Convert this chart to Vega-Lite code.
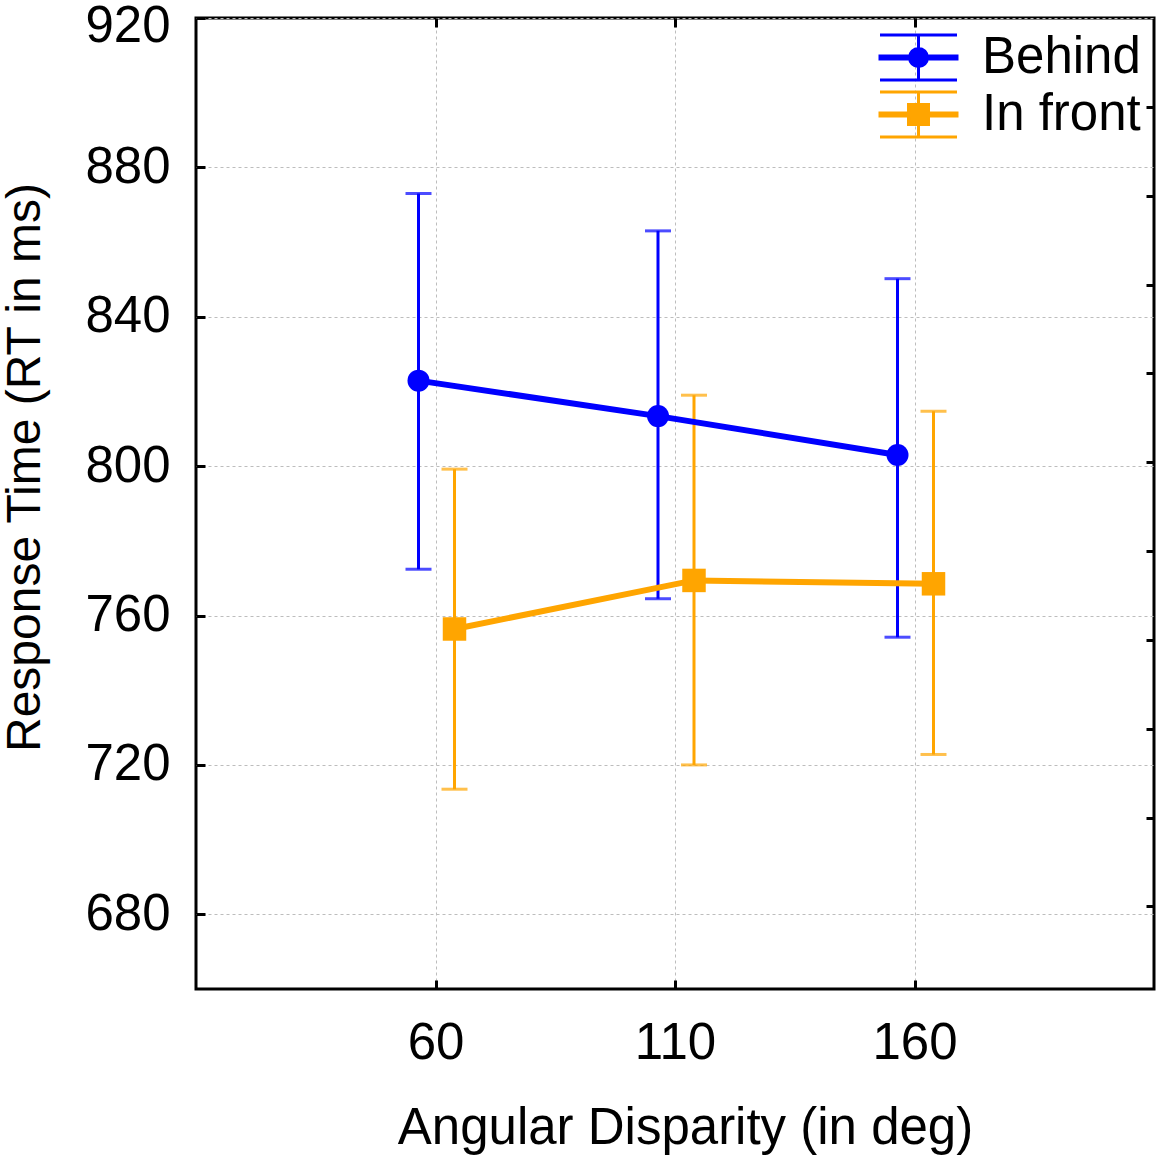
{
  "$schema": "https://vega.github.io/schema/vega-lite/v6.json",
  "width": 958,
  "height": 971,
  "autosize": {"type": "none"},
  "padding": {"left": 196, "top": 18, "right": 2, "bottom": 166},
  "background": "white",
  "config": {
    "font": "Liberation Sans",
    "view": {"stroke": "black", "strokeWidth": 3},
    "axis": {
      "domain": false,
      "tickColor": "black",
      "tickWidth": 3,
      "labelColor": "black",
      "labelFontSize": 51,
      "titleColor": "black",
      "titleFontSize": 51,
      "titleFontWeight": "normal",
      "gridColor": "#bdbdbd",
      "gridDash": [3, 3],
      "gridWidth": 1
    }
  },
  "data": {
    "values": [
      {"series": "Behind", "angle": 60, "rt": 822.9, "lo": 772.4, "hi": 873.0},
      {"series": "Behind", "angle": 110, "rt": 813.4, "lo": 764.5, "hi": 863.0},
      {"series": "Behind", "angle": 160, "rt": 803.0, "lo": 754.2, "hi": 850.2},
      {"series": "In front", "angle": 60, "rt": 756.4, "lo": 713.5, "hi": 799.2},
      {"series": "In front", "angle": 110, "rt": 769.4, "lo": 720.0, "hi": 819.0},
      {"series": "In front", "angle": 160, "rt": 768.5, "lo": 722.8, "hi": 814.7}
    ]
  },
  "layer": [
    {
      "encoding": {
        "x": {
          "field": "angle",
          "type": "quantitative",
          "scale": {"domain": [10, 210], "nice": false, "zero": false},
          "axis": {
            "orient": "bottom",
            "values": [60, 110, 160],
            "grid": true,
            "tickSize": -9,
            "labelPadding": 63,
            "labelBaseline": "middle",
            "title": "Angular Disparity (in deg)",
            "titleX": 489,
            "titleY": 139,
            "titleBaseline": "middle",
            "titleAlign": "center"
          }
        },
        "color": {
          "field": "series",
          "type": "nominal",
          "scale": {"domain": ["Behind", "In front"], "range": ["#0000ff", "#ffa500"]},
          "legend": {
            "orient": "none",
            "legendX": 697,
            "legendY": 14,
            "title": null,
            "padding": 0,
            "symbolSize": 2025,
            "symbolStrokeWidth": 3,
            "labelFontSize": 51,
            "labelColor": "black",
            "labelOffset": 38,
            "rowPadding": 0,
            "encode": {
              "symbols": {
                "update": {
                  "shape": {"signal": "datum.value === 'Behind' ? 'M-1.711,-1H1.711M-1.711,1H1.711M0,-1V1M-1.711,-0.067H1.711V0.067H-1.711ZM-0.4,0A0.4,0.4,0,1,1,0.4,0A0.4,0.4,0,1,1,-0.4,0Z' : 'M-1.711,-1H1.711M-1.711,1H1.711M0,-1V1M-1.711,-0.067H1.711V0.067H-1.711ZM-0.444,-0.444H0.444V0.444H-0.444Z'"},
                  "fill": {"signal": "datum.value === 'Behind' ? '#0000ff' : '#ffa500'"},
                  "stroke": {"signal": "datum.value === 'Behind' ? '#0000ff' : '#ffa500'"},
                  "strokeWidth": {"value": 3},
                  "size": {"value": 2025},
                  "opacity": {"value": 1},
                  "fillOpacity": {"value": 1},
                  "strokeOpacity": {"value": 1}
                }
              }
            }
          }
        }
      },
      "layer": [
        {
          "mark": {"type": "rule", "strokeWidth": 3, "xOffset": {"expr": "datum.series === 'Behind' ? -17 : 19"}},
          "encoding": {
            "y": {
              "field": "lo",
              "type": "quantitative",
              "scale": {"domain": [660, 920], "nice": false, "zero": false},
              "title": "Response Time (RT in ms)",
              "axis": {
                "orient": "left",
                "values": [680, 720, 760, 800, 840, 880, 920],
                "grid": true,
                "tickSize": -9,
                "labelPadding": 35,
                "labelFlush": true,
                "labelFlushOffset": 17,
                "titleFontSize": 48,
                "titleAngle": -90,
                "titleX": -171,
                "titleY": 449,
                "titleAlign": "center",
                "titleBaseline": "middle"
              }
            },
            "y2": {"field": "hi"}
          }
        },
        {
          "mark": {"type": "tick", "orient": "horizontal", "size": 26, "thickness": 3, "xOffset": {"expr": "datum.series === 'Behind' ? -17 : 19"}},
          "encoding": {
            "y": {"field": "lo", "type": "quantitative", "title": "Response Time (RT in ms)"}
          }
        },
        {
          "mark": {"type": "tick", "orient": "horizontal", "size": 26, "thickness": 3, "xOffset": {"expr": "datum.series === 'Behind' ? -17 : 19"}},
          "encoding": {
            "y": {"field": "hi", "type": "quantitative", "title": "Response Time (RT in ms)"}
          }
        },
        {
          "mark": {"type": "line", "strokeWidth": 6, "xOffset": {"expr": "datum.series === 'Behind' ? -17 : 19"}},
          "encoding": {
            "y": {"field": "rt", "type": "quantitative", "title": "Response Time (RT in ms)"}
          }
        },
        {
          "transform": [{"filter": "datum.series === 'Behind'"}],
          "mark": {"type": "point", "shape": "circle", "size": 484, "filled": true, "opacity": 1, "xOffset": -17},
          "encoding": {
            "y": {"field": "rt", "type": "quantitative", "title": "Response Time (RT in ms)"}
          }
        },
        {
          "transform": [{"filter": "datum.series === 'In front'"}],
          "mark": {"type": "point", "shape": "square", "size": 552, "filled": true, "opacity": 1, "xOffset": 19},
          "encoding": {
            "y": {"field": "rt", "type": "quantitative", "title": "Response Time (RT in ms)"}
          }
        }
      ]
    },
    {
      "mark": {"type": "point", "opacity": 0},
      "encoding": {
        "x": {
          "field": "angle",
          "type": "quantitative",
          "scale": {"domain": [10, 210], "nice": false, "zero": false},
          "axis": {
            "orient": "top",
            "values": [60, 110, 160],
            "labels": false,
            "grid": false,
            "tickSize": -9,
            "title": null
          }
        },
        "y": {
          "field": "rt",
          "type": "quantitative",
          "scale": {"domain": [0, 10.93], "reverse": true, "nice": false, "zero": false},
          "axis": {
            "orient": "right",
            "values": [1, 2, 3, 4, 5, 6, 7, 8, 9, 10],
            "labels": false,
            "grid": false,
            "tickSize": -8,
            "title": null
          }
        }
      }
    }
  ],
  "resolve": {"scale": {"x": "independent", "y": "independent"}}
}
